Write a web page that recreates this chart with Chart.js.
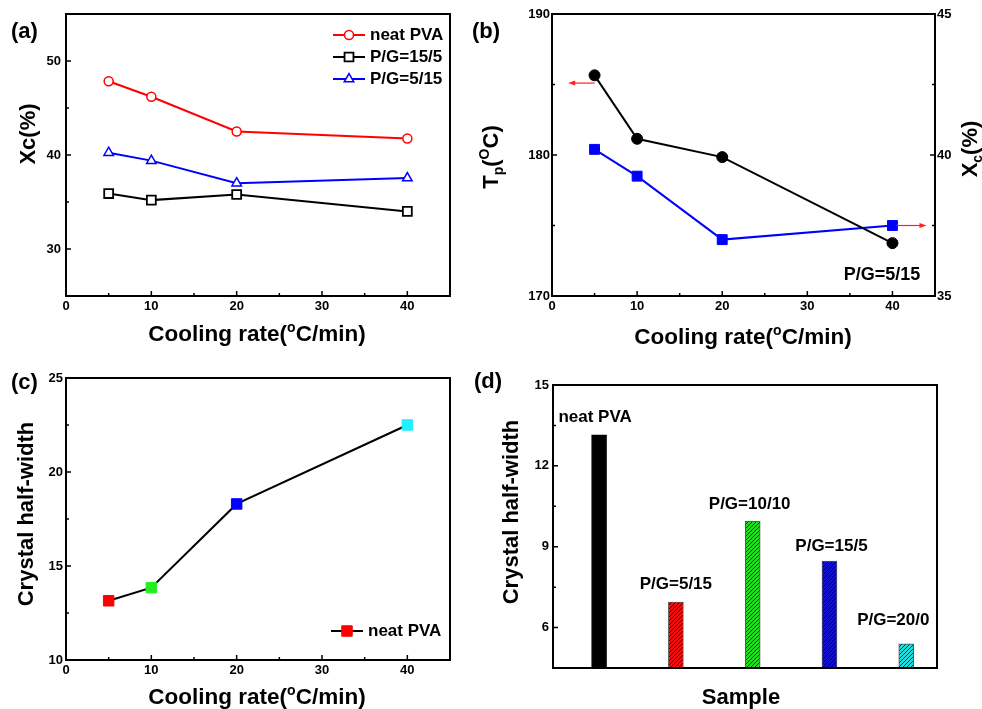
<!DOCTYPE html>
<html>
<head>
<meta charset="utf-8">
<script src="https://cdn.jsdelivr.net/npm/chart.js@4.4.0/dist/chart.umd.min.js"></script>
<style>
    body { margin: 0; background: #fff; width: 982px; height: 709px; position: relative; overflow: hidden; }
    canvas { position: absolute; }
</style>
</head>
<body>
<canvas id="chart-a" width="460" height="354" style="left:0;top:0"></canvas>
<canvas id="chart-b" width="522" height="354" style="left:460px;top:0"></canvas>
<canvas id="chart-c" width="460" height="355" style="left:0;top:354px"></canvas>
<canvas id="chart-d" width="522" height="355" style="left:460px;top:354px"></canvas>
<script>
// values
const coolingRates = [5, 10, 20, 40]
const coolingTicks = [0, 10, 20, 30, 40]

// (a) crystallinity
const xcNeatPVA = [47.85, 46.2, 42.5, 41.75]
const xcPG15_5 = [35.9, 35.2, 35.8, 34.0]
const xcPG5_15 = [40.25, 39.4, 37.0, 37.55]
const xcTicks = [30, 40, 50]

// (b) P/G=5/15, peak temperature and crystallinity
const tpPG5_15 = [185.65, 181.15, 179.85, 173.75]
const xcPG5_15b = [40.2, 39.25, 37.0, 37.5]
const tpTicks = [170, 180, 190]
const xcRightTicks = [35, 40, 45]

// (c) neat PVA half-width
const halfWidthNeat = [13.15, 13.85, 18.3, 22.5]
const halfWidthTicks = [10, 15, 20, 25]
const halfWidthColors = ['#ff0000', '#22ee22', '#0000ff', '#22eeff']

// (d) half-width per sample
const sampleNames = ['neat PVA', 'P/G=5/15', 'P/G=10/10', 'P/G=15/5', 'P/G=20/0']
const halfWidthSamples = [13.15, 6.95, 9.95, 8.47, 5.4]
const sampleColors = ['#000000', '#ee1111', '#22dd22', '#1111cc', '#22dddd']
const sampleTicks = [6, 9, 12, 15]

const FONT = "'Liberation Sans', Arial, Helvetica, sans-serif"
Chart.defaults.font.family = FONT
Chart.defaults.color = '#000'

const toPoints = (xs, ys) => xs.map((x, i) => ({ x: x, y: ys[i] }))
const fixedTicks = values => s => { s.ticks = values.map(v => ({ value: v })) }
const tickFont = { size: 13, weight: 'bold' }

function yAxis(min, max, ticks, width, pad, position) {
    return {
        type: 'linear', position: position || 'left', min: min, max: max,
        grid: { display: false, drawTicks: false }, border: { display: false },
        ticks: { font: tickFont, padding: pad, color: '#000' },
        afterBuildTicks: fixedTicks(ticks),
        afterFit: s => { s.width = width }
    }
}

function xAxis(min, max, ticks, height, show) {
    return {
        type: 'linear', min: min, max: max, offset: false,
        grid: { display: false, drawTicks: false, offset: false }, border: { display: false },
        ticks: { display: show, font: tickFont, padding: 3, color: '#000', maxRotation: 0 },
        afterBuildTicks: fixedTicks(ticks),
        afterFit: s => { s.height = height }
    }
}

// frame round the plot with inward ticks
function frame(minor, noTicks) {
    return {
        id: 'frame',
        afterDraw(chart) {
            const ctx = chart.ctx
            const a = chart.chartArea
            ctx.save()
            ctx.strokeStyle = '#000'
            ctx.lineWidth = 2
            ctx.strokeRect(a.left, a.top, a.right - a.left, a.bottom - a.top)
            ctx.lineWidth = 1.5
            for (const id in chart.scales) {
                if ((noTicks || []).includes(id)) continue
                const s = chart.scales[id]
                const marks = s.ticks.map(t => [t.value, 5]).concat(((minor || {})[id] || []).map(v => [v, 3]))
                ctx.beginPath()
                for (const [v, len] of marks) {
                    const p = s.getPixelForValue(v)
                    if (s.isHorizontal()) {
                        ctx.moveTo(p, a.bottom); ctx.lineTo(p, a.bottom - len)
                    } else if (s.position === 'right') {
                        ctx.moveTo(a.right, p); ctx.lineTo(a.right - len, p)
                    } else {
                        ctx.moveTo(a.left, p); ctx.lineTo(a.left + len, p)
                    }
                }
                ctx.stroke()
            }
            ctx.restore()
        }
    }
}

// text with sub/superscripts
function drawRich(ctx, parts, x, y, size, rot, align) {
    parts = parts.map(p => typeof p === 'string' ? { t: p } : p)
    ctx.save()
    ctx.translate(x, y)
    ctx.rotate(rot || 0)
    const fontOf = p => `bold ${p.sub || p.sup ? Math.round(size * 0.62) : size}px ${FONT}`
    const widths = parts.map(p => { ctx.font = fontOf(p); return ctx.measureText(p.t).width })
    const total = widths.reduce((s, w) => s + w, 0)
    let cx = align === 'left' ? 0 : -total / 2
    ctx.textBaseline = 'middle'
    ctx.textAlign = 'left'
    ctx.fillStyle = '#000'
    parts.forEach((p, i) => {
        ctx.font = fontOf(p)
        const dy = p.sub ? size * 0.32 : p.sup ? -size * 0.3 : 0
        ctx.fillText(p.t, cx, dy)
        cx += widths[i]
    })
    ctx.restore()
}

function texts(items) {
    return {
        id: 'texts',
        afterDraw(chart) {
            items.forEach(it => drawRich(chart.ctx, it.parts, it.x, it.y, it.size, it.rot, it.align))
        }
    }
}

function seriesLegend(x, y0, dy, size) {
    return {
        id: 'seriesLegend',
        afterDraw(chart) {
            const ctx = chart.ctx
            chart.data.datasets.forEach((ds, i) => {
                const y = y0 + i * dy
                ctx.save()
                ctx.strokeStyle = ds.borderColor
                ctx.lineWidth = ds.borderWidth
                ctx.beginPath(); ctx.moveTo(x, y); ctx.lineTo(x + 32, y); ctx.stroke()
                ctx.fillStyle = [].concat(ds.pointBackgroundColor)[0]
                ctx.strokeStyle = [].concat(ds.pointBorderColor)[0]
                ctx.lineWidth = ds.pointBorderWidth
                Chart.helpers.drawPoint(ctx, { pointStyle: ds.pointStyle, radius: ds.pointRadius, borderWidth: ds.pointBorderWidth, rotation: 0 }, x + 16, y)
                ctx.fillStyle = '#000'
                ctx.font = `bold ${size}px ${FONT}`
                ctx.textBaseline = 'middle'
                ctx.textAlign = 'left'
                ctx.fillText(ds.label, x + 37, y)
                ctx.restore()
            })
        }
    }
}

const coolingTitle = ['Cooling rate(', { t: 'o', sup: true }, 'C/min)']
const baseOptions = pad => ({
    responsive: false,
    animation: false,
    layout: { padding: pad },
    plugins: { legend: { display: false }, tooltip: { enabled: false } }
})

// (a)
new Chart(document.getElementById('chart-a'), {
    type: 'line',
    data: {
        datasets: [
            { label: 'neat PVA', data: toPoints(coolingRates, xcNeatPVA), borderColor: '#ff0000', borderWidth: 2,
              pointStyle: 'circle', pointRadius: 4.5, pointBorderWidth: 1.5, pointBackgroundColor: '#fff', pointBorderColor: '#ff0000' },
            { label: 'P/G=15/5', data: toPoints(coolingRates, xcPG15_5), borderColor: '#000', borderWidth: 2,
              pointStyle: 'rect', pointRadius: 6.3, pointBorderWidth: 1.8, pointBackgroundColor: '#fff', pointBorderColor: '#000' },
            { label: 'P/G=5/15', data: toPoints(coolingRates, xcPG5_15), borderColor: '#0000ff', borderWidth: 2,
              pointStyle: 'triangle', pointRadius: 5.5, pointBorderWidth: 1.5, pointBackgroundColor: '#fff', pointBorderColor: '#0000ff' }
        ]
    },
    options: Object.assign(baseOptions({ left: 0, top: 14, right: 10, bottom: 0 }), {
        scales: {
            x: xAxis(0, 45, coolingTicks, 58, true),
            y: yAxis(25, 55, xcTicks, 66, 5)
        }
    }),
    plugins: [
        frame({ x: [5, 15, 25, 35], y: [35, 45] }),
        seriesLegend(333, 35, 22, 17),
        texts([
            { parts: ['(a)'], x: 11, y: 32, size: 22, align: 'left' },
            { parts: ['Xc(%)'], x: 29, y: 134, size: 22, rot: -Math.PI / 2 },
            { parts: coolingTitle, x: 257, y: 335, size: 22.5 }
        ])
    ]
})

// (b)
const arrowMarks = [
    { from: 5, to: 1.9, value: 185.1, axis: 'y' },
    { from: 40.5, to: 44, value: 37.5, axis: 'y2' }
]
new Chart(document.getElementById('chart-b'), {
    type: 'line',
    data: {
        datasets: [
            { label: 'Tp', data: toPoints(coolingRates, tpPG5_15), yAxisID: 'y', borderColor: '#000', borderWidth: 2,
              pointStyle: 'circle', pointRadius: 5.5, pointBorderWidth: 1, pointBackgroundColor: '#000', pointBorderColor: '#000' },
            { label: 'Xc', data: toPoints(coolingRates, xcPG5_15b), yAxisID: 'y2', borderColor: '#0000ff', borderWidth: 2,
              pointStyle: 'rect', pointRadius: 7, pointBorderWidth: 1, pointBackgroundColor: '#0000ff', pointBorderColor: '#0000ff' }
        ]
    },
    options: Object.assign(baseOptions({ left: 0, top: 14, right: 0, bottom: 0 }), {
        scales: {
            x: xAxis(0, 45, coolingTicks, 58, true),
            y: yAxis(170, 190, tpTicks, 92, 2),
            y2: yAxis(35, 45, xcRightTicks, 47, 2, 'right')
        }
    }),
    plugins: [
        frame({ x: [5, 15, 25, 35], y: [175, 185], y2: [37.5, 42.5] }),
        {
            id: 'arrows',
            afterDraw(chart) {
                const ctx = chart.ctx
                const xs = chart.scales.x
                ctx.save()
                ctx.strokeStyle = '#ff2020'
                ctx.fillStyle = '#ff2020'
                ctx.lineWidth = 1.2
                for (const m of arrowMarks) {
                    const x0 = xs.getPixelForValue(m.from)
                    const x1 = xs.getPixelForValue(m.to)
                    const y = chart.scales[m.axis].getPixelForValue(m.value)
                    const dir = Math.sign(x1 - x0)
                    ctx.beginPath(); ctx.moveTo(x0, y); ctx.lineTo(x1 - dir * 4, y); ctx.stroke()
                    ctx.beginPath(); ctx.moveTo(x1, y); ctx.lineTo(x1 - dir * 7, y - 2.5); ctx.lineTo(x1 - dir * 7, y + 2.5); ctx.closePath(); ctx.fill()
                }
                ctx.restore()
            }
        },
        texts([
            { parts: ['(b)'], x: 12, y: 32, size: 22, align: 'left' },
            { parts: ['T', { t: 'p', sub: true }, '(', { t: 'O', sup: true }, 'C)'], x: 32, y: 157, size: 22, rot: -Math.PI / 2 },
            { parts: ['X', { t: 'c', sub: true }, '(%)'], x: 511, y: 149, size: 22, rot: -Math.PI / 2 },
            { parts: coolingTitle, x: 283, y: 338, size: 22.5 },
            { parts: ['P/G=5/15'], x: 422, y: 275, size: 18 }
        ])
    ]
})

// (c)
new Chart(document.getElementById('chart-c'), {
    type: 'line',
    data: {
        datasets: [
            { label: 'neat PVA', data: toPoints(coolingRates, halfWidthNeat), borderColor: '#000', borderWidth: 2,
              pointStyle: 'rect', pointRadius: 7.4, pointBorderWidth: 1, pointBackgroundColor: halfWidthColors, pointBorderColor: halfWidthColors }
        ]
    },
    options: Object.assign(baseOptions({ left: 0, top: 24, right: 10, bottom: 0 }), {
        scales: {
            x: xAxis(0, 45, coolingTicks, 49, true),
            y: yAxis(10, 25, halfWidthTicks, 66, 3)
        }
    }),
    plugins: [
        frame({ x: [5, 15, 25, 35], y: [12.5, 17.5, 22.5] }),
        seriesLegend(331, 277, 22, 17),
        texts([
            { parts: ['(c)'], x: 11, y: 29, size: 22, align: 'left' },
            { parts: ['Crystal half-width'], x: 27, y: 160, size: 22, rot: -Math.PI / 2 },
            { parts: coolingTitle, x: 257, y: 344, size: 22.5 }
        ])
    ]
})

// (d)
function hatch(color) {
    const c = document.createElement('canvas')
    c.width = c.height = 4
    const g = c.getContext('2d')
    g.fillStyle = color
    g.fillRect(0, 0, 4, 4)
    g.strokeStyle = 'rgba(0,0,0,0.7)'
    g.lineWidth = 1
    g.beginPath()
    g.moveTo(0, 4); g.lineTo(4, 0)
    g.moveTo(-1, 1); g.lineTo(1, -1)
    g.moveTo(3, 5); g.lineTo(5, 3)
    g.stroke()
    return g.createPattern(c, 'repeat')
}
const labelNudges = [[-4, -18], [0, -18], [-3, -17], [2, -15], [-13, -23]]

new Chart(document.getElementById('chart-d'), {
    type: 'bar',
    data: {
        datasets: [{
            label: 'Crystal half-width',
            data: halfWidthSamples.map((v, i) => ({ x: i + 1, y: v })),
            backgroundColor: sampleColors.map((c, i) => i === 0 ? c : hatch(c)),
            borderColor: sampleColors.map((c, i) => i === 0 ? '#000' : '#555'),
            borderWidth: 1,
            barThickness: 15
        }]
    },
    options: Object.assign(baseOptions({ left: 0, top: 31, right: 45, bottom: 0 }), {
        scales: {
            x: xAxis(0.4, 5.4, [1, 2, 3, 4, 5], 41, false),
            y: yAxis(4.5, 15, sampleTicks, 93, 4)
        }
    }),
    plugins: [
        frame({ y: [7.5, 10.5, 13.5] }, ['x']),
        {
            id: 'barLabels',
            afterDraw(chart) {
                chart.getDatasetMeta(0).data.forEach((bar, i) => {
                    drawRich(chart.ctx, [sampleNames[i]], bar.x + labelNudges[i][0], bar.y + labelNudges[i][1], 17, 0)
                })
            }
        },
        texts([
            { parts: ['(d)'], x: 14, y: 28, size: 22, align: 'left' },
            { parts: ['Crystal half-width'], x: 52, y: 158, size: 22, rot: -Math.PI / 2 },
            { parts: ['Sample'], x: 281, y: 344, size: 22 }
        ])
    ]
})
</script>
</body>
</html>
